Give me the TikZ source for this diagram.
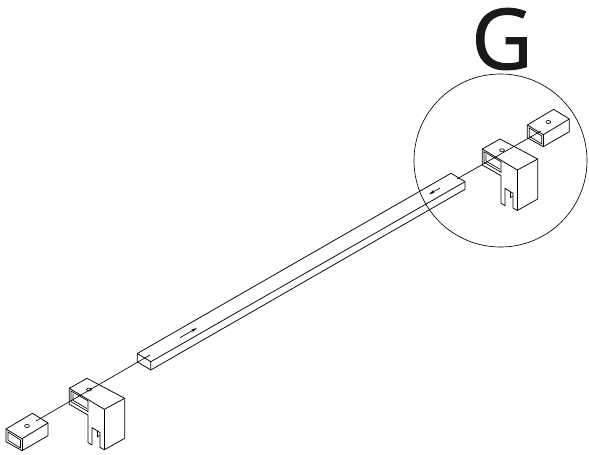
\documentclass[tikz,border=0pt]{standalone}
\usepackage{fontspec}
\setsansfont{Open Sans}[FakeBold=1.3]
\usetikzlibrary{arrows.meta}
\tikzset{
  part/.style={draw, line width=0.75pt, line join=round},
  thin part/.style={draw, line width=0.65pt},
  flowtip/.style={draw, line width=0.65pt, -{Stealth[length=6pt,width=3pt]}},
  sleevepic/.pic={
    \draw[part] (527.3,125) -- (553.7,109.3) -- (569.3,119) -- (543.3,134.7) -- cycle;
    \draw[part] (527.3,125) -- (527.3,137.7) -- (543.3,146.7) -- (569.3,131.7) -- (569.3,119);
    \draw[part] (543.3,134.7) -- (543.3,146.7);
    \draw[thin part] (529.3,128) -- (541.8,136) -- (541.8,144) -- (529.3,136.2) -- cycle;
    \draw[thin part] (548.3,122) ellipse (2.4 and 1.5);
  },
  bracketpic/.pic={
    \draw[part] (482.3,149) -- (500,139) -- (537.7,159) -- (517.3,170) -- cycle;
    \draw[part] (482.3,149) -- (482.3,165) -- (501,175.7) -- (501,203.3) -- (505,205.7)
      -- (505,188.3) -- (513,193.3) -- (513,208) -- (517.3,210.5) -- (537.7,199) -- (537.7,159);
    \draw[part] (517.3,170) -- (517.3,210.5);
    \draw[thin part] (484,151.7) -- (501,161.7) -- (501,172.3) -- (484,162.3) -- cycle;
    \draw[thin part] (486,154.3) -- (486,161) -- (500,169.3);
    \draw[thin part] (510.5,191.5) -- (510.5,197.5) -- (513,196);
    \draw[thin part] (502,150.3) ellipse (2.4 and 1.5);
  },
}
\begin{document}
\begin{tikzpicture}[x=1pt,y=-1pt]
\useasboundingbox (0,0) rectangle (589,455);
\node[font=\sffamily\fontsize{84}{84}\selectfont, text=black!90, inner sep=0pt] (title) at (502,39) {G};
\draw[thin part] (500.5,160.5) circle (86.5);
% rod
\coordinate (rodA) at (137.3,353.5);
\coordinate (rodB) at (150.8,361.7);
\coordinate (rodC) at (150.8,370);
\coordinate (rodD) at (137.3,361.7);
\coordinate (rodE) at (451,173.3);
\coordinate (rodF) at (465,181.7);
\coordinate (rodG) at (465,189.3);
\draw[part] (rodA) -- (rodB) -- (rodC) -- (rodD) -- cycle;
\draw[part] (rodA) -- (rodE) -- (rodF) -- (rodG) -- (rodC);
\draw[part] (rodB) -- (rodF);
% parts at both ends
\pic (sleeveR) at (0,0) {sleevepic};
\pic (bracketR) at (0,0) {bracketpic};
\pic (sleeveL) at (-521.3,304) {sleevepic};
\pic (bracketL) at (-413,239.3) {bracketpic};
% axis lines
\coordinate (axisRa) at (457,179);
\coordinate (axisRb) at (541,131);
\coordinate (axisLa) at (36,421);
\coordinate (axisLb) at (150,355);
\draw[thin part] (axisRa) -- (axisRb);
\draw[thin part] (axisLa) -- (axisLb);
% arrows on the rod
\coordinate (flowLa) at (180,337.7);
\coordinate (flowLb) at (197,328);
\coordinate (flowRa) at (440,188);
\coordinate (flowRb) at (429,194.3);
\draw[flowtip] (flowLa) -- (flowLb);
\draw[flowtip] (flowRa) -- (flowRb);
\end{tikzpicture}
\end{document}
